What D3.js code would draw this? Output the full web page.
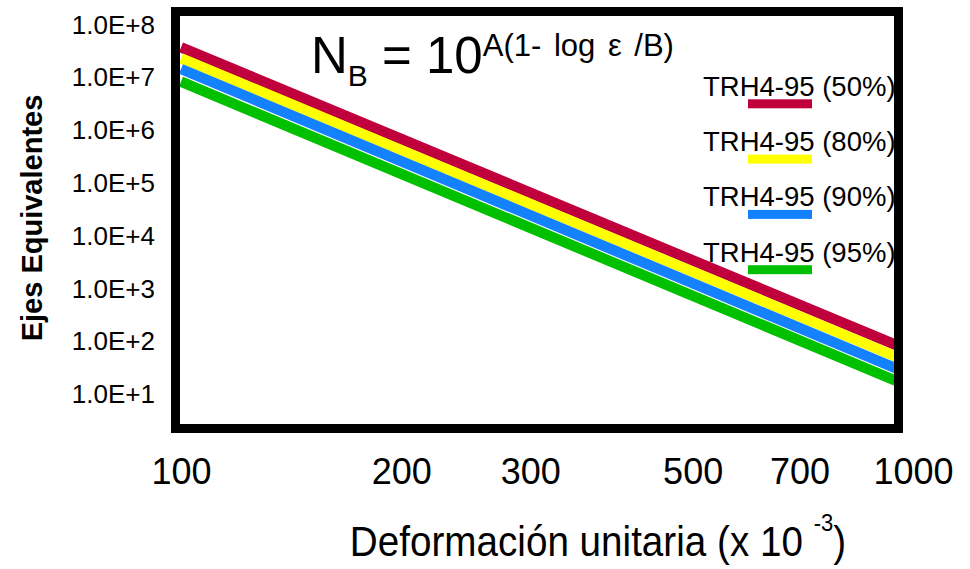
<!DOCTYPE html>
<html>
<head>
<meta charset="utf-8">
<script src="https://cdn.jsdelivr.net/npm/d3@7"></script>
<style>
  html, body { margin: 0; padding: 0; background: #fff; }
  svg { display: block; font-family: "Liberation Sans", Arial, Helvetica, sans-serif; }
</style>
</head>
<body>
<svg id="chart" width="970" height="569"></svg>
<script>
// Strain values (x 10^-3) at which each fatigue line is evaluated
const strain = [100, 1000];

// Allowable equivalent axles for each reliability level (TRH4-95)
const seriesNames = ["TRH4-95 (50%)", "TRH4-95 (80%)", "TRH4-95 (90%)", "TRH4-95 (95%)"];
const axles50 = [3.73e7, 63.5];
const axles80 = [2.31e7, 38.3];
const axles90 = [1.45e7, 22.9];
const axles95 = [8.34e6, 13.3];
const seriesColors = ["#c0003c", "#ffff00", "#1482ff", "#00c000"];

// Axis ticks
const xTicks = [100, 200, 300, 500, 700, 1000];
const yTicks = [1e1, 1e2, 1e3, 1e4, 1e5, 1e6, 1e7, 1e8];
const yTickLabels = ["1.0E+1", "1.0E+2", "1.0E+3", "1.0E+4", "1.0E+5", "1.0E+6", "1.0E+7", "1.0E+8"];

const series = [axles50, axles80, axles90, axles95].map((vals, i) => ({
  name: seriesNames[i],
  color: seriesColors[i],
  points: strain.map((e, j) => ({ e, n: vals[j] }))
}));

const svg = d3.select("#chart");

// Frame of the plotting area
const frame = { x: 175.5, y: 11.5, w: 723, h: 417, stroke: 9 };

const x = d3.scaleLog().domain([100, 1000]).range([181, 913]);
const y = d3.scaleLog().domain([1e1, 1e8]).range([394.5, 24.7]);

svg.append("defs").append("clipPath").attr("id", "plot-clip")
  .append("rect")
  .attr("x", frame.x).attr("y", frame.y)
  .attr("width", frame.w).attr("height", frame.h);

// Fatigue lines
const line = d3.line().x(d => x(d.e)).y(d => y(d.n));
svg.append("g").attr("clip-path", "url(#plot-clip)")
  .selectAll("path")
  .data(series)
  .join("path")
  .attr("d", d => line(d.points))
  .attr("fill", "none")
  .attr("stroke", d => d.color)
  .attr("stroke-width", 10.5);

// Legend
const legend = svg.append("g").attr("class", "legend");
series.forEach((s, i) => {
  const base = 95.7 + i * 55.3;
  legend.append("text")
    .attr("x", 703).attr("y", base)
    .attr("font-size", 27.5)
    .attr("fill", "#000")
    .text(s.name);
  legend.append("rect")
    .attr("x", 748).attr("y", base + 3.6)
    .attr("width", 64).attr("height", 9)
    .attr("fill", s.color);
});

// Formula
const formula = svg.append("text").attr("x", 311).attr("y", 73).attr("fill", "#000").attr("font-size", 51);
formula.append("tspan").text("N");
formula.append("tspan").attr("font-size", 30).attr("dy", 13).text("B");
formula.append("tspan").attr("dy", -13).text(" = 10");
formula.append("tspan").attr("font-size", 31).attr("word-spacing", 4).attr("dy", -17).text("A(1- log ε /B)");

// Y axis
const yAxis = d3.axisLeft(y).tickValues(yTicks)
  .tickFormat((d, i) => yTickLabels[i])
  .tickSize(0).tickPadding(16);
const yg = svg.append("g").attr("transform", `translate(${frame.x - frame.stroke / 2},0)`).call(yAxis);
yg.select(".domain").remove();
yg.selectAll("text").attr("font-size", 26).attr("font-family", null).attr("fill", "#000");

// X axis
const xAxis = d3.axisBottom(x).tickValues(xTicks)
  .tickFormat(d3.format("d"))
  .tickSize(0).tickPadding(25);
const xg = svg.append("g").attr("transform", `translate(0,${frame.y + frame.h + frame.stroke / 2})`).call(xAxis);
xg.select(".domain").remove();
xg.selectAll("text").attr("font-size", 36).attr("font-family", null).attr("fill", "#000");

// Axis titles
svg.append("text")
  .attr("transform", "translate(42,218) rotate(-90)")
  .attr("text-anchor", "middle")
  .attr("font-size", 29).attr("font-weight", "bold").attr("fill", "#000")
  .text("Ejes Equivalentes");

const xTitle = svg.append("text")
  .attr("transform", "translate(598,556) scale(0.92,1)")
  .attr("text-anchor", "middle")
  .attr("font-size", 42).attr("fill", "#000");
xTitle.append("tspan").text("Deformación unitaria (x 10 ");
xTitle.append("tspan").attr("font-size", 24).attr("dy", -25).text("-3");
xTitle.append("tspan").attr("dy", 25).text(")");

// Frame drawn last so it sits over the line ends
svg.append("rect")
  .attr("x", frame.x).attr("y", frame.y)
  .attr("width", frame.w).attr("height", frame.h)
  .attr("fill", "none").attr("stroke", "#000").attr("stroke-width", frame.stroke);
</script>
</body>
</html>
